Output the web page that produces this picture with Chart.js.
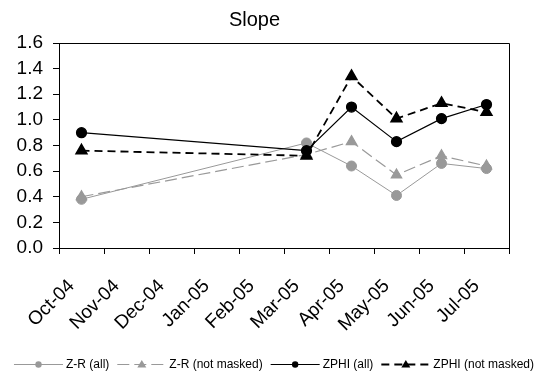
<!DOCTYPE html>
<html>
<head>
<meta charset="utf-8">
<script src="https://cdn.jsdelivr.net/npm/chart.js@4"></script>
<style>
  html, body { margin: 0; padding: 0; background: #fff; }
  #wrap { width: 536px; height: 376px; }
</style>
</head>
<body>
<div id="wrap"><canvas id="grafica"></canvas></div>
<script>
// datos
const meses = ['Oct-04', 'Nov-04', 'Dec-04', 'Jan-05', 'Feb-05', 'Mar-05', 'Apr-05', 'May-05', 'Jun-05', 'Jul-05'];
const zrAll = [0.38, null, null, null, null, 0.82, 0.64, 0.41, 0.66, 0.62];
const zrNotMasked = [0.40, null, null, null, null, 0.73, 0.83, 0.57, 0.72, 0.64];
const zphiAll = [0.90, null, null, null, null, 0.76, 1.10, 0.83, 1.01, 1.12];
const zphiNotMasked = [0.76, null, null, null, null, 0.72, 1.34, 1.01, 1.13, 1.06];
const yTicks = [0, 0.2, 0.4, 0.6, 0.8, 1.0, 1.2, 1.4, 1.6];

const gris = '#999999';
const fuente = "'Liberation Sans', Arial, sans-serif";

// marco arriba/derecha y leyenda abajo
const marcoYLeyenda = {
  id: 'marcoYLeyenda',
  afterDraw(chart) {
    const ctx = chart.ctx;
    const a = chart.chartArea;
    ctx.save();
    ctx.strokeStyle = '#000';
    ctx.lineWidth = 1;
    ctx.beginPath();
    ctx.moveTo(Math.round(a.left) + 0.5, Math.round(a.top) + 0.5);
    ctx.lineTo(Math.round(a.right) + 0.5, Math.round(a.top) + 0.5);
    ctx.lineTo(Math.round(a.right) + 0.5, Math.round(a.bottom) + 0.5);
    ctx.stroke();

    ctx.font = '12px ' + fuente;
    ctx.textBaseline = 'middle';
    const largo = 49, hueco = 3, sep = 8;
    const items = chart.data.datasets;
    let total = 0;
    items.forEach((d, i) => {
      total += largo + hueco + ctx.measureText(d.label).width + (i < items.length - 1 ? sep : 0);
    });
    let x = 274 - total / 2;
    const y = 364;
    items.forEach(d => {
      ctx.strokeStyle = d.borderColor;
      ctx.lineWidth = d.borderWidth;
      ctx.setLineDash(d.borderDash || []);
      ctx.beginPath();
      ctx.moveTo(x, y + 0.5);
      ctx.lineTo(x + largo, y + 0.5);
      ctx.stroke();
      ctx.setLineDash([]);
      ctx.fillStyle = d.borderColor;
      const cx = x + largo / 2;
      ctx.beginPath();
      if (d.pointStyle === 'triangle') {
        ctx.moveTo(cx, y - 4);
        ctx.lineTo(cx + 4.5, y + 3.5);
        ctx.lineTo(cx - 4.5, y + 3.5);
        ctx.closePath();
      } else {
        ctx.arc(cx, y + 0.5, 3.2, 0, Math.PI * 2);
      }
      ctx.fill();
      ctx.fillStyle = '#000';
      ctx.fillText(d.label, x + largo + hueco, y + 1);
      x += largo + hueco + ctx.measureText(d.label).width + sep;
    });
    ctx.restore();
  }
};

const datos = {
  labels: meses,
  datasets: [
    {
      label: 'Z-R (all)',
      data: zrAll,
      borderColor: gris,
      backgroundColor: gris,
      borderWidth: 1,
      pointStyle: 'circle',
      pointRadius: 5,
      order: 3
    },
    {
      label: 'Z-R (not masked)',
      data: zrNotMasked,
      borderColor: gris,
      backgroundColor: gris,
      borderWidth: 1.2,
      borderDash: [12, 5],
      pointStyle: 'triangle',
      pointRadius: 6,
      order: 2
    },
    {
      label: 'ZPHI (all)',
      data: zphiAll,
      borderColor: '#000',
      backgroundColor: '#000',
      borderWidth: 1.2,
      pointStyle: 'circle',
      pointRadius: 5,
      order: 1
    },
    {
      label: 'ZPHI (not masked)',
      data: zphiNotMasked,
      borderColor: '#000',
      backgroundColor: '#000',
      borderWidth: 1.8,
      borderDash: [8, 5],
      pointStyle: 'triangle',
      pointRadius: 6,
      order: 0
    }
  ]
};

const config = {
  type: 'line',
  data: datos,
  options: {
    responsive: true,
    maintainAspectRatio: false,
    animation: false,
    spanGaps: true,
    layout: { padding: { left: 0, right: 27, top: 0, bottom: 0 } },
    elements: {
      line: { tension: 0, fill: false },
      point: { borderWidth: 0, hoverRadius: 5 }
    },
    plugins: {
      legend: { display: false },
      tooltip: { enabled: false },
      title: {
        display: true,
        text: 'Slope',
        color: '#000',
        font: { family: fuente, size: 20, weight: 'normal' },
        padding: { top: 8, bottom: 11 }
      }
    },
    scales: {
      x: {
        type: 'category',
        offset: true,
        grid: { display: true, offset: true, drawOnChartArea: false, color: '#000', tickLength: 6 },
        border: { display: true, color: '#000', width: 1 },
        ticks: {
          color: '#000',
          font: { family: fuente, size: 19 },
          minRotation: 45,
          maxRotation: 45,
          autoSkip: false,
          padding: 21,
          labelOffset: -10
        },
        afterFit(scale) { scale.height = 128; }
      },
      y: {
        min: 0,
        max: 1.6,
        afterBuildTicks(scale) { scale.ticks = yTicks.map(v => ({ value: v })); },
        grid: { display: true, drawOnChartArea: false, color: '#000', tickLength: 6 },
        border: { display: true, color: '#000', width: 1 },
        ticks: {
          color: '#000',
          font: { family: fuente, size: 19 },
          padding: 10,
          autoSkip: false,
          callback: v => Number(v).toFixed(1)
        },
        afterFit(scale) { scale.width = 59; }
      }
    }
  },
  plugins: [marcoYLeyenda]
};

new Chart(document.getElementById('grafica'), config);
</script>
</body>
</html>
